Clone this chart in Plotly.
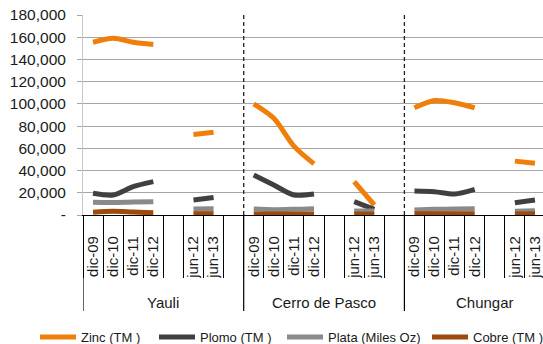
import plotly.graph_objects as go

groups = ["Yauli", "Cerro de Pasco", "Chungar"]
periods = ["dic-09", "dic-10", "dic-11", "dic-12", "", "jun-12", "jun-13", ""]

zinc = [155500, 159000, 155500, 153500, None, 72500, 74500, None,
        100000, 87000, 62000, 46000, None, 30000, 9000, None,
        96500, 103000, 101000, 96500, None, 48500, 46500, None]
plomo = [19500, 18000, 25500, 30000, None, 13500, 15800, None,
         36000, 27000, 18000, 18900, None, 12000, 5100, None,
         21600, 21000, 18900, 23100, None, 11100, 13500, None]
plata = [11500, 11300, 11800, 12000, None, 5400, 5600, None,
         5400, 4800, 5100, 5700, None, 3600, 3600, None,
         4500, 5100, 5400, 5700, None, 3300, 3900, None]
cobre = [2400, 3300, 2600, 2000, None, 1200, 1200, None,
         800, 800, 800, 800, None, 800, 800, None,
         1200, 1200, 1200, 1200, None, 1000, 1000, None]

series = [
    ("Zinc (TM )", zinc, "#EF7F0A"),
    ("Plomo (TM )", plomo, "#404040"),
    ("Plata (Miles Oz)", plata, "#8A8A8A"),
    ("Cobre (TM )", cobre, "#9E4A0C"),
]
legend_px = [41, 160, 288, 433]   # left edge of each legend line (pixels)

yticks = list(range(0, 180001, 20000))
ytext = ["-"] + [f"{v:,}" for v in yticks[1:]]

n = len(periods)
x = list(range(n * len(groups)))
ticktext = periods * len(groups)

FONT = "Liberation Sans"
W, H = 543, 344
ML, MT, MB, MR = 83, 15, 129, 0
PW = W - ML - MR
PH = H - MT - MB

fig = go.Figure()
legend_layouts = {}
for i, (name, vals, col) in enumerate(series):
    lg = "legend" if i == 0 else f"legend{i + 1}"
    fig.add_trace(go.Scatter(
        x=x, y=vals, name=name, mode="lines",
        line=dict(color=col, width=5, shape="spline", smoothing=0.8),
        connectgaps=False, legend=lg,
    ))
    legend_layouts[lg] = dict(
        orientation="h",
        x=(legend_px[i] - 6 - ML) / PW, xanchor="left",
        y=-(337 - MT - PH) / PH, yanchor="middle",
        font=dict(family=FONT, size=13, color="#1a1a1a"),
        itemwidth=36, bgcolor="rgba(0,0,0,0)",
    )

shapes = []
for g in range(1, len(groups)):
    xb = g * n - 0.5
    shapes.append(dict(type="line", xref="x", yref="paper", x0=xb, x1=xb, y0=0, y1=1.01,
                       line=dict(color="#222222", width=1.3, dash="4px,3px")))
for g in range(len(groups)):
    xb = g * n - 0.5
    shapes.append(dict(type="line", xref="x", yref="paper", x0=xb, x1=xb, y0=0, y1=-0.48,
                       line=dict(color="#000000", width=1.2)))

annotations = []
for g, name in enumerate(groups):
    annotations.append(dict(x=g * n + (n - 1) / 2, y=-0.435, xref="x", yref="paper",
                            text=name, showarrow=False, yanchor="middle",
                            font=dict(family=FONT, size=15, color="#1a1a1a")))

fig.update_layout(
    width=W, height=H,
    margin=dict(l=ML, r=MR, t=MT, b=MB, autoexpand=False),
    paper_bgcolor="white", plot_bgcolor="white",
    shapes=shapes, annotations=annotations,
    showlegend=True,
    xaxis=dict(
        range=[-0.5, 22.4],
        tickmode="array", tickvals=x, ticktext=ticktext,
        tickangle=-90, ticks="", ticklen=0,
        ticklabelstandoff=14,
        tickfont=dict(family=FONT, size=15, color="#1a1a1a"),
        showgrid=False, zeroline=False,
        showline=True, linecolor="#000000", linewidth=1.2,
        minor=dict(tickmode="array", tickvals=[v - 0.5 for v in x] + [x[-1] + 0.5],
                   ticks="outside", ticklen=62, tickcolor="#000000", tickwidth=1.2,
                   showgrid=False),
    ),
    yaxis=dict(
        range=[0, 180000],
        tickmode="array", tickvals=yticks, ticktext=ytext,
        tickfont=dict(family=FONT, size=15.5, color="#1a1a1a"),
        ticklabelstandoff=8,
        showgrid=True, gridcolor="#A6A6A6", gridwidth=1.4,
        ticks="outside", ticklen=5, tickcolor="#A6A6A6", tickwidth=1.4,
        showline=True, linecolor="#C8C8C8", linewidth=1,
        zeroline=False,
    ),
    **legend_layouts,
)

fig.write_html("out.html", config={"displayModeBar": False},
               post_script="document.body.style.margin='0px';document.body.style.overflow='hidden';")
